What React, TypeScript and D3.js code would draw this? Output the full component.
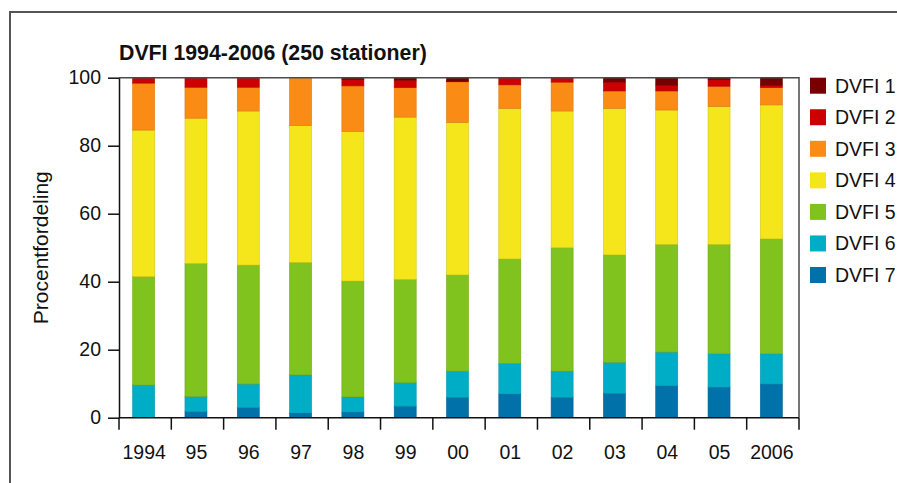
import React, { useRef, useEffect } from "react";
import * as d3 from "d3";

// år (x-akse)
const years = ["1994", "95", "96", "97", "98", "99", "00", "01", "02", "03", "04", "05", "2006"];

// procentfordeling pr. DVFI-klasse
const dvfi7 = [0, 1.8, 3.0, 1.4, 1.7, 3.4, 6.0, 7.0, 6.0, 7.2, 9.4, 9.0, 9.9];
const dvfi6 = [9.6, 4.4, 6.9, 11.2, 4.4, 6.9, 7.7, 9.0, 7.7, 9.1, 9.9, 9.8, 8.9];
const dvfi5 = [31.9, 39.2, 35.0, 33.1, 34.1, 30.4, 28.3, 30.7, 36.3, 31.6, 31.7, 32.2, 33.8];
const dvfi4 = [43.1, 42.7, 45.3, 40.2, 44.0, 47.7, 44.8, 44.3, 40.2, 43.1, 39.5, 40.5, 39.4];
const dvfi3 = [13.8, 9.1, 7.0, 14.1, 13.4, 8.7, 12.0, 6.9, 8.5, 5.1, 5.6, 6.0, 5.1];
const dvfi2 = [1.6, 2.8, 2.8, 0, 1.9, 2.2, 0.2, 2.1, 1.3, 2.6, 1.7, 1.9, 0.7];
const dvfi1 = [0, 0, 0, 0, 0.5, 0.7, 1.0, 0, 0, 1.3, 2.2, 0.6, 2.2];

const yTicks = [0, 20, 40, 60, 80, 100];

const seriesKeys = ["DVFI 7", "DVFI 6", "DVFI 5", "DVFI 4", "DVFI 3", "DVFI 2", "DVFI 1"];
const seriesValues = [dvfi7, dvfi6, dvfi5, dvfi4, dvfi3, dvfi2, dvfi1];
const seriesColors = ["#0071a9", "#00adc7", "#80c21e", "#f4e61a", "#fa8c15", "#cc0000", "#760000"];

const legendKeys = ["DVFI 1", "DVFI 2", "DVFI 3", "DVFI 4", "DVFI 5", "DVFI 6", "DVFI 7"];

const font = "'Liberation Sans', Arial, Helvetica, sans-serif";

export default function App() {
  const ref = useRef<SVGSVGElement | null>(null);

  useEffect(() => {
    if (!ref.current) return;
    const svg = d3.select(ref.current);
    svg.selectAll("*").remove();

    const width = 897;
    const height = 483;
    const margin = { top: 77.7, right: 98, bottom: 65.3, left: 119 };
    const frame = "#4a4a4a";

    const rows = years.map((yr, i) => {
      const row: any = { year: yr };
      seriesKeys.forEach((k, j) => (row[k] = seriesValues[j][i]));
      return row;
    });

    const x = d3
      .scaleBand()
      .domain(years)
      .range([margin.left, width - margin.right])
      .padding(0);

    const y = d3
      .scaleLinear()
      .domain([0, 100])
      .range([height - margin.bottom, margin.top]);

    const color = d3.scaleOrdinal<string>().domain(seriesKeys).range(seriesColors);

    const stacked = d3.stack().keys(seriesKeys)(rows);

    // outer frame
    svg
      .append("path")
      .attr("d", `M10,${height} V12 H${width}`)
      .attr("fill", "none")
      .attr("stroke", "#555")
      .attr("stroke-width", 2);

    // title
    svg
      .append("text")
      .attr("x", margin.left)
      .attr("y", 60)
      .attr("font-family", font)
      .attr("font-weight", "bold")
      .attr("font-size", 21.3)
      .attr("fill", "#111")
      .text("DVFI 1994-2006 (250 stationer)");

    // bars
    const barW = 22;
    svg
      .append("g")
      .selectAll("g")
      .data(stacked)
      .join("g")
      .attr("fill", (d) => color(d.key))
      .attr("stroke", (d) => d3.color(color(d.key))!.darker(0.4).formatHex())
      .attr("stroke-width", 0.6)
      .selectAll("rect")
      .data((d) => d.filter((p) => p[1] - p[0] > 0))
      .join("rect")
      .attr("x", (d: any) => (x(d.data.year) || 0) + (x.bandwidth() - barW) / 2 - 1.5)
      .attr("width", barW)
      .attr("y", (d) => y(d[1]))
      .attr("height", (d) => y(d[0]) - y(d[1]));

    // plot frame: top and right
    svg
      .append("path")
      .attr("d", `M${margin.left},${y(100)} H${width - margin.right} V${y(0)}`)
      .attr("fill", "none")
      .attr("stroke", frame)
      .attr("stroke-width", 1.5);

    // y axis
    const yAxis = svg
      .append("g")
      .attr("transform", `translate(${margin.left},0)`)
      .call(d3.axisLeft(y).tickValues(yTicks).tickSize(11).tickPadding(7).tickSizeOuter(0));
    yAxis.select(".domain").attr("stroke", "#111").attr("stroke-width", 1.5);
    yAxis.selectAll(".tick line").attr("stroke", "#111").attr("stroke-width", 1.5);
    yAxis
      .selectAll(".tick text")
      .attr("font-family", font)
      .attr("font-size", 19.5)
      .attr("fill", "#111");

    // x axis with ticks at band edges
    const xAxisG = svg.append("g").attr("transform", `translate(0,${y(0)})`);
    xAxisG
      .append("line")
      .attr("x1", margin.left)
      .attr("x2", width - margin.right)
      .attr("stroke", "#111")
      .attr("stroke-width", 1.5);
    const edges = years.map((yr) => x(yr) || 0).concat([width - margin.right]);
    xAxisG
      .selectAll("line.edge")
      .data(edges)
      .join("line")
      .attr("class", "edge")
      .attr("x1", (d) => d)
      .attr("x2", (d) => d)
      .attr("y1", 0)
      .attr("y2", 12)
      .attr("stroke", "#111")
      .attr("stroke-width", 1.5);
    xAxisG
      .selectAll("text")
      .data(years)
      .join("text")
      .attr("x", (d) => (x(d) || 0) + x.bandwidth() / 2 - 1)
      .attr("y", 41.5)
      .attr("text-anchor", "middle")
      .attr("font-family", font)
      .attr("font-size", 19.5)
      .attr("fill", "#111")
      .text((d) => d);

    // y axis label
    svg
      .append("text")
      .attr("transform", `translate(48,${(y(0) + y(100)) / 2}) rotate(-90)`)
      .attr("text-anchor", "middle")
      .attr("font-family", font)
      .attr("font-size", 21)
      .attr("fill", "#111")
      .text("Procentfordeling");

    // legend
    const legend = svg
      .append("g")
      .selectAll("g")
      .data(legendKeys)
      .join("g")
      .attr("transform", (_d, i) => `translate(810,${85.7 + i * 31.55})`);
    legend
      .append("rect")
      .attr("x", 0)
      .attr("y", -8)
      .attr("width", 16)
      .attr("height", 16)
      .attr("fill", (d) => color(d));
    legend
      .append("text")
      .attr("x", 25)
      .attr("y", 7)
      .attr("font-family", font)
      .attr("font-size", 19.5)
      .attr("fill", "#111")
      .text((d) => d);
  }, []);

  return (
    <div style={{ position: "absolute", left: 0, top: 0 }}>
      <svg ref={ref} width={897} height={483} style={{ display: "block" }} />
    </div>
  );
}
